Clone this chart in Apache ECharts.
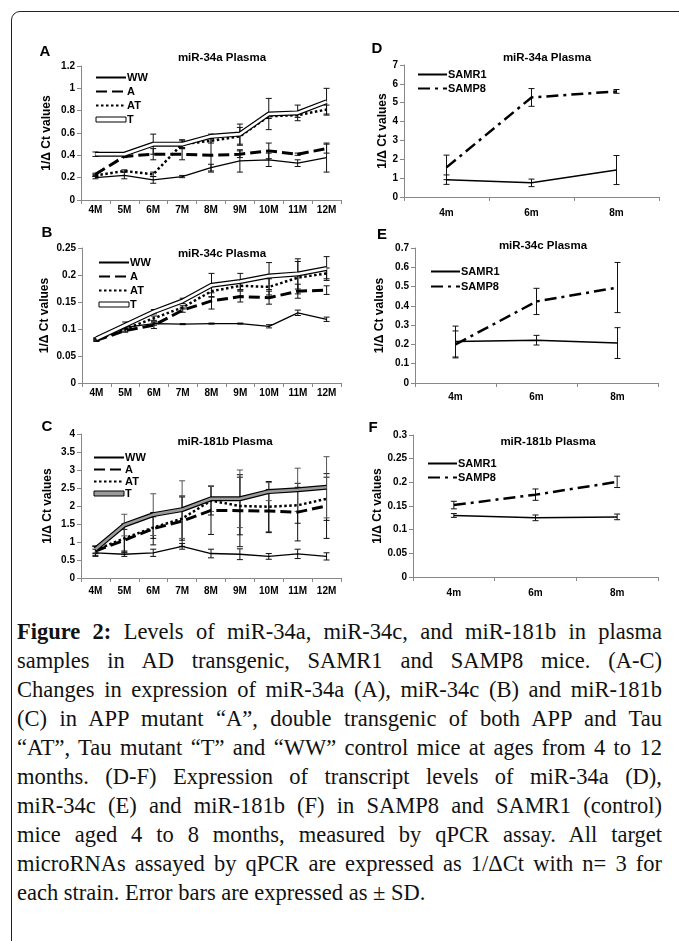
<!DOCTYPE html>
<html>
<head>
<meta charset="utf-8">
<script src="https://cdn.jsdelivr.net/npm/echarts@6/dist/echarts.min.js"></script>
<title>Figure 2</title>
<style>
    body { margin:0; background:#fff; width:679px; height:941px; overflow:hidden; position:relative; }
    #frame { position:absolute; left:11px; top:11px; width:720px; height:980px; border:1.5px solid #222; border-radius:9px; }
    #main { position:absolute; left:0; top:0; width:679px; height:605px; }
    #caption { position:absolute; left:17px; top:617px; width:645px; font-family:'Liberation Serif',serif; font-size:22.5px; line-height:29px; color:#111; }
    #caption div { text-align:justify; text-align-last:justify; white-space:nowrap; }
    #caption div.last { text-align-last:left; }
</style>
</head>
<body>
<div id="frame"></div>
<div id="main"></div>
<div id="caption">
    <div><b>Figure 2:</b> Levels of miR-34a, miR-34c, and miR-181b in plasma</div>
    <div>samples in AD transgenic, SAMR1 and SAMP8 mice. (A-C)</div>
    <div>Changes in expression of miR-34a (A), miR-34c (B) and miR-181b</div>
    <div>(C) in APP mutant “A”, double transgenic of both APP and Tau</div>
    <div>“AT”, Tau mutant “T” and “WW” control mice at ages from 4 to 12</div>
    <div>months. (D-F) Expression of transcript levels of miR-34a (D),</div>
    <div>miR-34c (E) and miR-181b (F) in SAMP8 and SAMR1 (control)</div>
    <div>mice aged 4 to 8 months, measured by qPCR assay. All target</div>
    <div>microRNAs assayed by qPCR are expressed as 1/ΔCt with n= 3 for</div>
    <div class="last">each strain. Error bars are expressed as ± SD.</div>
</div>
<script type="text/javascript">
    // categories
    var monthsAD = ['4M', '5M', '6M', '7M', '8M', '9M', '10M', '11M', '12M'];
    var monthsSAM = ['4m', '6m', '8m'];

    // A: miR-34a plasma, AD mice
    var aWW = [0.20, 0.22, 0.18, 0.21, 0.29, 0.35, 0.36, 0.33, 0.38];
    var aWWsd = [0.01, 0.03, 0.03, 0.01, 0.03, 0.10, 0.06, 0.03, 0.13];
    var aA = [0.23, 0.39, 0.41, 0.41, 0.40, 0.41, 0.44, 0.41, 0.46];
    var aAsd = [0.01, 0.01, 0.05, 0.05, 0.15, 0.03, 0.07, 0.01, 0.04];
    var aAT = [0.22, 0.26, 0.23, 0.50, 0.53, 0.57, 0.75, 0.76, 0.81];
    var aATsd = [0.01, 0.01, 0.02, 0.04, 0.02, 0.08, 0.02, 0.02, 0.04];
    var aT = [0.41, 0.41, 0.50, 0.50, 0.57, 0.59, 0.77, 0.78, 0.88];
    var aTsd = [0.02, 0.01, 0.09, 0.03, 0.02, 0.09, 0.14, 0.07, 0.12];

    // B: miR-34c plasma, AD mice
    var bWW = [0.080, 0.103, 0.110, 0.109, 0.110, 0.110, 0.105, 0.130, 0.118];
    var bWWsd = [0.002, 0.003, 0.003, 0.001, 0.001, 0.001, 0.003, 0.005, 0.004];
    var bA = [0.079, 0.097, 0.107, 0.135, 0.152, 0.160, 0.158, 0.170, 0.172];
    var bAsd = [0.002, 0.003, 0.006, 0.004, 0.015, 0.010, 0.012, 0.013, 0.008];
    var bAT = [0.080, 0.100, 0.120, 0.140, 0.170, 0.180, 0.178, 0.195, 0.203];
    var bATsd = [0.002, 0.004, 0.004, 0.003, 0.010, 0.008, 0.015, 0.030, 0.010];
    var bT = [0.082, 0.107, 0.132, 0.152, 0.181, 0.188, 0.198, 0.202, 0.212];
    var bTsd = [0.002, 0.006, 0.004, 0.005, 0.022, 0.015, 0.025, 0.028, 0.022];

    // C: miR-181b plasma, AD mice
    var cWW = [0.70, 0.66, 0.70, 0.88, 0.68, 0.66, 0.60, 0.67, 0.60];
    var cWWsd = [0.10, 0.06, 0.10, 0.08, 0.12, 0.15, 0.08, 0.13, 0.10];
    var cA = [0.75, 1.05, 1.37, 1.58, 1.88, 1.87, 1.86, 1.83, 2.00];
    var cAsd = [0.12, 0.30, 0.45, 0.70, 0.67, 1.00, 0.60, 0.80, 0.90];
    var cAT = [0.78, 1.10, 1.40, 1.65, 2.15, 2.00, 1.98, 2.02, 2.20];
    var cATsd = [0.10, 0.40, 0.30, 0.60, 0.40, 0.80, 0.70, 0.50, 0.60];
    var cT = [0.80, 1.47, 1.76, 1.90, 2.20, 2.20, 2.40, 2.45, 2.52];
    var cTsd = [0.10, 0.30, 0.58, 0.80, 0.35, 0.80, 0.25, 0.60, 0.85];

    // D: miR-34a plasma, SAM mice
    var dR1 = [0.92, 0.75, 1.43];
    var dR1sd = [0.25, 0.20, 0.77];
    var dP8 = [1.57, 5.28, 5.60];
    var dP8sd = [0.65, 0.47, 0.10];

    // E: miR-34c plasma, SAM mice
    var eR1 = [0.215, 0.222, 0.207];
    var eR1sd = [0.080, 0.025, 0.080];
    var eP8 = [0.200, 0.423, 0.495];
    var eP8sd = [0.070, 0.068, 0.130];

    // F: miR-181b plasma, SAM mice
    var fR1 = [0.130, 0.125, 0.127];
    var fR1sd = [0.004, 0.006, 0.006];
    var fP8 = [0.152, 0.174, 0.201];
    var fP8sd = [0.008, 0.012, 0.012];

    var FONT = "'Liberation Sans', Arial, sans-serif";
    var AXIS_GREY = '#888';

    // grid boxes and text placement for the six panels
    var panels = [
        { cats: monthsAD, left: 81, top: 66, width: 260, height: 134, max: 1.2, step: 0.2, gap: 28, lmargin: 5,
          title: 'miR-34a Plasma', tx: 222, ty: 58, letter: 'A', lx: 45, ly: 52, legX: 90, legY: 67, legGap: 3 },
        { cats: monthsAD, left: 82, top: 248, width: 259, height: 135, max: 0.25, step: 0.05, gap: 31, lmargin: 5,
          title: 'miR-34c Plasma', tx: 222, ty: 254, letter: 'B', lx: 47, ly: 233, legX: 93, legY: 252, legGap: 3 },
        { cats: monthsAD, left: 81, top: 434, width: 260, height: 144, max: 4, step: 0.5, gap: 27, lmargin: 8,
          title: 'miR-181b Plasma', tx: 225, ty: 442, letter: 'C', lx: 47, ly: 427, legX: 88, legY: 447, legGap: 1 },
        { cats: monthsSAM, left: 404, top: 65, width: 255, height: 132, max: 7, step: 1, gap: 15, lmargin: 11,
          title: 'miR-34a Plasma', tx: 547, ty: 58, letter: 'D', lx: 377, ly: 49, legX: 412, legY: 64, legGap: 3 },
        { cats: monthsSAM, left: 415, top: 248, width: 243, height: 135, max: 0.7, step: 0.1, gap: 29, lmargin: 9,
          title: 'miR-34c Plasma', tx: 543, ty: 246, letter: 'E', lx: 382, ly: 235, legX: 425, legY: 261, legGap: 4 },
        { cats: monthsSAM, left: 413, top: 435, width: 245, height: 142, max: 0.3, step: 0.05, gap: 28, lmargin: 11,
          title: 'miR-181b Plasma', tx: 548, ty: 442, letter: 'F', lx: 373, ly: 428, legX: 422, legY: 453, legGap: 3 }
    ];

    function errData(vals, sd) {
        var out = [];
        for (var i = 0; i < vals.length; i++) {
            out.push([i, vals[i] - sd[i], vals[i] + sd[i]]);
        }
        return out;
    }

    function errRender(params, api) {
        var x = api.value(0);
        var top = api.coord([x, api.value(2)]);
        var bot = api.coord([x, api.value(1)]);
        var w = 3;
        var st = { stroke: api.visual('color'), lineWidth: 1 };
        return {
            type: 'group',
            children: [
                { type: 'line', shape: { x1: top[0], y1: top[1], x2: bot[0], y2: bot[1] }, style: st },
                { type: 'line', shape: { x1: top[0] - w, y1: top[1], x2: top[0] + w, y2: top[1] }, style: st },
                { type: 'line', shape: { x1: bot[0] - w, y1: bot[1], x2: bot[0] + w, y2: bot[1] }, style: st }
            ]
        };
    }

    var grids = [], xAxes = [], yAxes = [], series = [], legends = [], graphics = [];

    function lineSeries(name, idx, data, ls, z) {
        series.push({
            type: 'line', name: name, xAxisIndex: idx, yAxisIndex: idx, data: data,
            symbol: 'none', silent: true, z: z || 3,
            lineStyle: ls
        });
    }

    function errSeries(idx, vals, sd, color) {
        series.push({
            type: 'custom', xAxisIndex: idx, yAxisIndex: idx, silent: true, z: 2,
            itemStyle: { color: color || '#111' },
            renderItem: errRender,
            encode: { x: 0, y: [1, 2] },
            data: errData(vals, sd)
        });
    }

    for (var i = 0; i < panels.length; i++) {
        var p = panels[i];
        grids.push({ left: p.left, top: p.top, width: p.width, height: p.height });
        xAxes.push({
            type: 'category', gridIndex: i, data: p.cats, boundaryGap: true,
            axisLine: { lineStyle: { color: AXIS_GREY, width: 1 } },
            axisTick: { show: true, length: 4, lineStyle: { color: AXIS_GREY } },
            axisLabel: { color: '#000', fontWeight: 'bold', fontSize: 10, fontFamily: FONT, margin: p.lmargin, interval: 0 }
        });
        yAxes.push({
            type: 'value', gridIndex: i, min: 0, max: p.max, interval: p.step,
            name: '1/Δ Ct values', nameLocation: 'middle', nameGap: p.gap,
            nameTextStyle: { color: '#000', fontWeight: 'bold', fontSize: 12, fontFamily: FONT },
            axisLine: { show: true, lineStyle: { color: AXIS_GREY, width: 1 } },
            axisTick: { show: true, length: 4, lineStyle: { color: AXIS_GREY } },
            splitLine: { show: false },
            axisLabel: { color: '#000', fontWeight: 'bold', fontSize: 10, fontFamily: FONT, margin: 6 }
        });
        graphics.push({
            type: 'text', x: p.tx, y: p.ty,
            style: { text: p.title, fill: '#000', font: 'bold 11.5px ' + FONT, textAlign: 'center', textVerticalAlign: 'middle' }
        });
        graphics.push({
            type: 'text', x: p.lx, y: p.ly,
            style: { text: p.letter, fill: '#000', font: 'bold 15px ' + FONT, textAlign: 'center', textVerticalAlign: 'middle' }
        });
    }

    // AD panels A-C
    var adSets = [
        [aWW, aWWsd, aA, aAsd, aAT, aATsd, aT, aTsd, '#fff'],
        [bWW, bWWsd, bA, bAsd, bAT, bATsd, bT, bTsd, '#fff'],
        [cWW, cWWsd, cA, cAsd, cAT, cATsd, cT, cTsd, '#9a9a9a']
    ];
    for (var k = 0; k < 3; k++) {
        var s = adSets[k];
        errSeries(k, s[0], s[1]);
        errSeries(k, s[2], s[3]);
        errSeries(k, s[4], s[5]);
        errSeries(k, s[6], s[7], k == 2 ? '#555' : '#111');
        lineSeries('WW', k, s[0], { color: '#000', width: 1.3 });
        lineSeries('A', k, s[2], { color: '#000', width: 3, type: [11, 5] });
        lineSeries('AT', k, s[4], { color: '#000', width: 2.5, type: [2.5, 2.5] });
        lineSeries('T', k, s[6], { color: '#000', width: 5 }, 4);
        lineSeries('T-inner', k, s[6], { color: s[8], width: 2.6 }, 5);
        legends.push({
            orient: 'vertical', left: panels[k].legX, top: panels[k].legY,
            itemWidth: 30, itemHeight: 10, itemGap: panels[k].legGap, selectedMode: false,
            textStyle: { color: '#000', fontWeight: 'bold', fontSize: 11, fontFamily: FONT, padding: [0, 0, 0, -4] },
            itemStyle: { opacity: 0 },
            data: ['WW', 'A', 'AT',
                { name: 'T', icon: 'path://M0,0H30V5H0Z', itemStyle: { opacity: 1, color: s[8], borderColor: '#000', borderWidth: 1 } }]
        });
    }

    // SAM panels D-F
    var samSets = [[dR1, dR1sd, dP8, dP8sd], [eR1, eR1sd, eP8, eP8sd], [fR1, fR1sd, fP8, fP8sd]];
    for (var m = 0; m < 3; m++) {
        var q = samSets[m];
        var gi = m + 3;
        errSeries(gi, q[0], q[1]);
        errSeries(gi, q[2], q[3]);
        lineSeries('SAMR1', gi, q[0], { color: '#000', width: 1.5 });
        lineSeries('SAMP8', gi, q[2], { color: '#000', width: 2.5, type: [12, 5, 3, 5] });
        legends.push({
            orient: 'vertical', left: panels[gi].legX, top: panels[gi].legY,
            itemWidth: 29, itemHeight: 10, itemGap: panels[gi].legGap, selectedMode: false,
            textStyle: { color: '#000', fontWeight: 'bold', fontSize: 11, fontFamily: FONT, padding: [0, 0, 0, -4] },
            itemStyle: { opacity: 0 },
            data: ['SAMR1', 'SAMP8']
        });
    }

    var myChart = echarts.init(document.getElementById('main'), null, { renderer: 'canvas' });
    myChart.setOption({
        animation: false,
        backgroundColor: 'transparent',
        grid: grids,
        xAxis: xAxes,
        yAxis: yAxes,
        legend: legends,
        graphic: graphics,
        series: series
    });
</script>
</body>
</html>
